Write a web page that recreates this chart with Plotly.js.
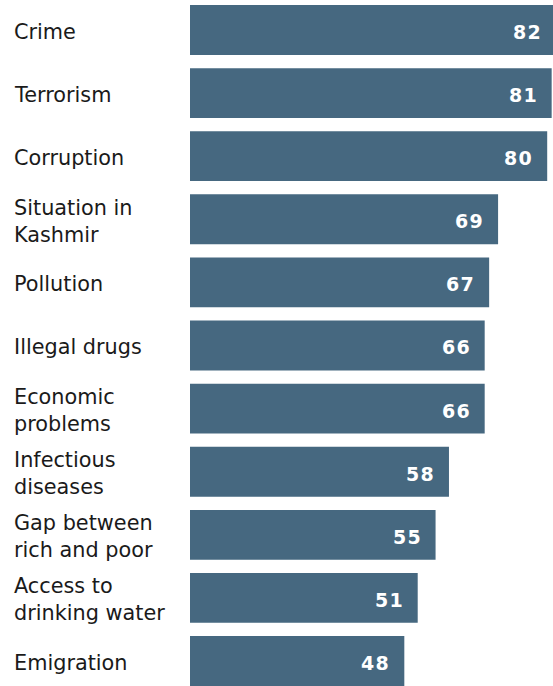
<!DOCTYPE html>
<html>
<head>
<meta charset="utf-8">
<script src="https://cdn.plot.ly/plotly-3.0.1.min.js"></script>
<style>
html,body{margin:0;padding:0;background:#fff;}
#chart{width:553px;height:686px;}
text.annotation-text[style*="Arial"]{letter-spacing:1.3px;}
</style>
</head>
<body>
<div id="chart"></div>
<script>
const categories = [
  "Crime", "Terrorism", "Corruption", "Situation in<br>Kashmir", "Pollution",
  "Illegal drugs", "Economic<br>problems", "Infectious<br>diseases",
  "Gap between<br>rich and poor", "Access to<br>drinking water", "Emigration"
];
const values = [82, 81, 80, 69, 67, 66, 66, 58, 55, 51, 48];
const valueLabels = values.map(v => String(v));

const idx = categories.map((_, i) => i);
const barColor = "#466880";
const xMax = 81.3;

const trace = {
  type: "bar",
  orientation: "h",
  x: values,
  y: idx,
  width: 0.79,
  marker: { color: barColor, line: { width: 0 } },
  hoverinfo: "skip"
};

const annotations = [];
categories.forEach((c, i) => {
  annotations.push({
    xref: "paper", yref: "y", x: 0, y: i, xshift: -178, yshift: -2,
    xanchor: "left", yanchor: "middle", align: "left",
    text: c, showarrow: false,
    font: { family: "DejaVu Sans, Verdana, sans-serif", size: 20.8, color: "#1a1a1a" }
  });
  annotations.push({
    xref: "paper", yref: "y", x: values[i] / xMax, y: i, xshift: -12, yshift: -2,
    xanchor: "right", yanchor: "middle",
    text: "<b>" + valueLabels[i] + "</b>", showarrow: false,
    font: { family: "DejaVu Sans, Arial", size: 19, color: "#ffffff" }
  });
});

const layout = {
  width: 553, height: 686,
  margin: { l: 190, r: 0, t: 0, b: 0, pad: 0 },
  paper_bgcolor: "#ffffff", plot_bgcolor: "#ffffff",
  showlegend: false,
  xaxis: { range: [0, xMax], visible: false, fixedrange: true },
  yaxis: { range: [10.396, -0.475], visible: false, fixedrange: true },
  annotations: annotations
};

Plotly.newPlot("chart", [trace], layout, { displayModeBar: false, staticPlot: true });
</script>
</body>
</html>
